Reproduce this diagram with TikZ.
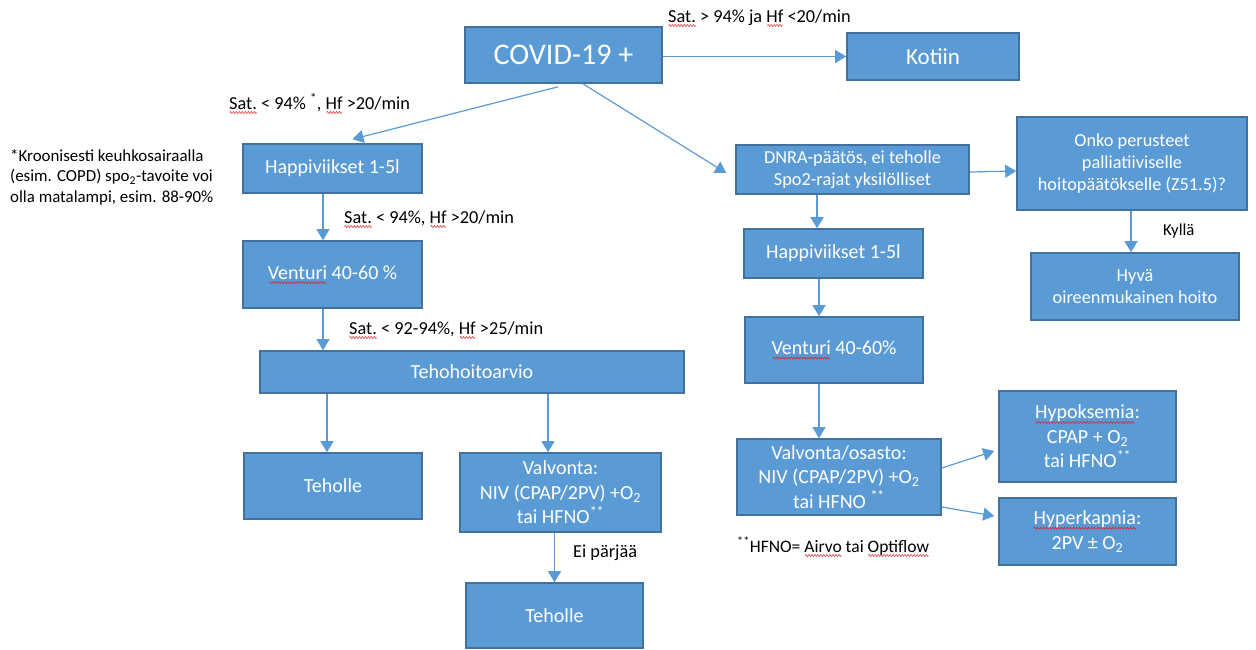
\documentclass[tikz,border=0pt]{standalone}
\usepackage{fontspec}
\setmainfont{Carlito}
\usetikzlibrary{arrows.meta}
\definecolor{boxfill}{HTML}{5B9BD5}
\definecolor{boxline}{HTML}{41719C}
\definecolor{arrowc}{HTML}{5B9BD5}
\definecolor{spellred}{HTML}{E02020}
\newcommand\wavebit{\tikz[baseline=0pt]{\useasboundingbox (0pt,-1pt) rectangle (3pt,1pt); \draw[spellred, line width=0.5pt] (0pt,0pt) .. controls (0.75pt,1.4pt) .. (1.5pt,0pt) .. controls (2.25pt,-1.4pt) .. (3pt,0pt);}}
\newsavebox\splbox
\newsavebox\wavebox
\newcommand\spl[1]{\sbox\splbox{#1}\sbox\wavebox{\wavebit}\rlap{\lower3.5pt\hbox to \wd\splbox{\cleaders\copy\wavebox\hfill}}\usebox\splbox}
\begin{document}
\begin{tikzpicture}[x=1pt,y=-1pt,
  box/.style={draw=boxline, line width=1.6pt, fill=boxfill, text=white, align=center, inner sep=2pt, font=\fontsize{20}{24.4}\selectfont},
  smallbox/.style={box, font=\fontsize{18.3}{22.3}\selectfont},
  lbl/.style={anchor=base west, inner sep=0pt, text=black, font=\fontsize{18.3}{22.3}\selectfont},
  arr/.style={draw=arrowc, line width=1.2pt, -{Triangle[length=11pt,width=13pt]}}]
\useasboundingbox (0,0) rectangle (1256,649);

% boxes
\node[box, minimum width=197pt, minimum height=56pt, font=\fontsize{30}{36}\selectfont] (covid) at (563.5,55) {COVID-19 +};
\node[box, minimum width=172pt, minimum height=47pt, font=\fontsize{23}{28}\selectfont] (kotiin) at (933,56.5) {Kotiin};
\node[box, minimum width=179pt, minimum height=49pt] (happiL) at (332.5,168.5) {Happiviikset 1-5l};
\node[box, minimum width=179pt, minimum height=67pt] (venturiL) at (332.5,274.5) {\spl{Venturi} 40-60 \%};
\node[box, minimum width=424pt, minimum height=42pt] (teho) at (472,372) {Tehohoitoarvio};
\node[box, minimum width=178pt, minimum height=66pt] (teholleL) at (333,486) {Teholle};
\node[box, minimum width=201pt, minimum height=79pt] (valvM) at (560.5,492.5) {Valvonta:\\NIV (CPAP/2PV) +O\textsubscript{2}\\tai HFNO\textsuperscript{**}};
\node[box, minimum width=177pt, minimum height=65pt] (teholleB) at (554.5,615.5) {Teholle};
\node[smallbox, minimum width=233pt, minimum height=49pt] (dnra) at (852.5,169.5) {DNRA-päätös, ei teholle\\Spo2-rajat yksilölliset};
\node[smallbox, minimum width=230pt, minimum height=93pt] (onko) at (1132,163.5) {Onko perusteet\\palliatiiviselle\\hoitopäätökselle (Z51.5)?};
\node[box, minimum width=179pt, minimum height=49pt] (happiR) at (833.5,253.5) {Happiviikset 1-5l};
\node[box, minimum width=178pt, minimum height=66pt] (venturiR) at (834,350) {\spl{Venturi} 40-60\%};
\node[box, minimum width=204pt, minimum height=76pt] (valvO) at (839,477) {Valvonta/osasto:\\NIV (CPAP/2PV) +O\textsubscript{2}\\tai HFNO \textsuperscript{**}};
\node[smallbox, minimum width=208pt, minimum height=67pt] (hyva) at (1135,286.5) {Hyvä\\oireenmukainen hoito};
\node[box, minimum width=177pt, minimum height=91pt] (hypok) at (1087.5,436.5) {\spl{Hypoksemia}:\\CPAP + O\textsubscript{2}\\tai HFNO\textsuperscript{**}};
\node[box, minimum width=177pt, minimum height=67pt] (hyperk) at (1087.5,531.5) {\spl{Hyperkapnia}:\\2PV ± O\textsubscript{2}};

% labels
\node[lbl] (l1) at (668,22) {\spl{Sat.} > 94\% ja \spl{Hf} <20/min};
\node[lbl] (l2) at (229,109) {\spl{Sat.} < 94\% \textsuperscript{*}, \spl{Hf} >20/min};
\node[lbl] (l3) at (344,223) {\spl{Sat.} < 94\%, \spl{Hf} >20/min};
\node[lbl] (l4) at (349,334) {\spl{Sat.} < 92-94\%, \spl{Hf} >25/min};
\node[lbl] (l5) at (573,557) {Ei pärjää};
\node[lbl, font=\fontsize{16.7}{20}\selectfont] (l6) at (1163,235) {Kyllä};
\node[lbl, font=\fontsize{17.5}{21}\selectfont] (l7) at (737,552) {\textsuperscript{**}HFNO= \spl{Airvo} tai \spl{Optiflow}};
\node[anchor=north west, inner sep=0pt, align=left, text=black, font=\fontsize{16.9}{20.5}\selectfont] (note) at (10,149) {*Kroonisesti keuhkosairaalla\\(esim. COPD) spo\textsubscript{2}-tavoite voi\\olla matalampi, esim. 88-90\%};

% connectors
\draw[arr] (covid.east |- kotiin.west) -- (kotiin.west);
\draw[arr] ([xshift=-5.5pt,yshift=-3pt]covid.south) -- ([xshift=20pt,yshift=4pt]happiL.north);
\draw[arr] ([xshift=19.5pt]covid.south) -- ([xshift=-9pt,yshift=-3.5pt]dnra.west);
\draw[arr] ([xshift=-9.5pt]happiL.south) -- ([xshift=-9.5pt]venturiL.north);
\draw[arr] ([xshift=-9.5pt]venturiL.south) -- ([xshift=-9.5pt]venturiL.south |- teho.north);
\draw[arr] ([xshift=-6pt]teholleL.north |- teho.south) -- ([xshift=-6pt]teholleL.north);
\draw[arr] ([xshift=-12.5pt]valvM.north |- teho.south) -- ([xshift=-12.5pt]valvM.north);
\draw[arr] (teholleB.north |- valvM.south) -- (teholleB.north);
\draw[arr] ([yshift=-2.5pt]dnra.east) -- ([yshift=-7.5pt]onko.west);
\draw[arr] ([xshift=-16.5pt]happiR.north |- dnra.south) -- ([xshift=-16.5pt]happiR.north);
\draw[arr] ([xshift=-14.5pt]happiR.south) -- ([xshift=-14.5pt]happiR.south |- venturiR.north);
\draw[arr] ([xshift=-15pt]venturiR.south) -- ([xshift=-15pt]venturiR.south |- valvO.north);
\draw[arr] ([xshift=-1pt]onko.south) -- ([xshift=-1pt]onko.south |- hyva.north);
\draw[arr] ([yshift=9pt]valvO.east) -- ([xshift=-4pt,yshift=-14.5pt]hypok.west);
\draw[arr] ([yshift=-30pt]valvO.east) -- ([xshift=-4pt,yshift=15.5pt]hyperk.west);
\end{tikzpicture}
\end{document}
